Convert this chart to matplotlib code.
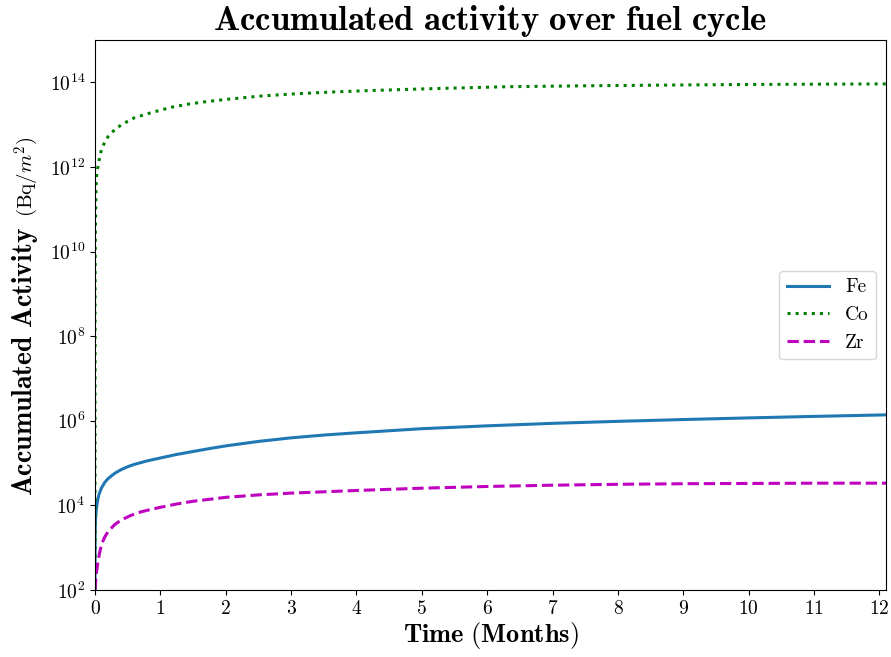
import numpy as np
import matplotlib
matplotlib.use("Agg")
import matplotlib.pyplot as plt
from matplotlib.ticker import NullLocator

plt.rcParams['font.family'] = 'serif'
plt.rcParams['font.serif'] = ['cmr10']
plt.rcParams['mathtext.fontset'] = 'cm'
plt.rcParams['axes.formatter.use_mathtext'] = True

# time in months, accumulated activity in Bq/m^2
fe_t = [0, 0.002, 0.005, 0.01, 0.02, 0.04, 0.06, 0.1, 0.15, 0.2, 0.3, 0.4, 0.5, 0.6,
        0.8, 1, 1.25, 1.5, 1.75, 2, 2.5, 3, 3.5, 4, 5, 6, 7, 8, 9, 10, 11, 12.1]
fe_a = [1e2, 2e3, 3.5e3, 5e3, 8e3, 1.3e4, 1.8e4, 2.6e4, 3.5e4, 4.3e4, 5.7e4, 7e4,
        8.2e4, 9.3e4, 1.13e5, 1.32e5, 1.6e5, 1.88e5, 2.2e5, 2.55e5, 3.25e5, 3.95e5,
        4.6e5, 5.2e5, 6.5e5, 7.6e5, 8.7e5, 9.7e5, 1.07e6, 1.17e6, 1.27e6, 1.38e6]

co_t = [0, 0.001, 0.003, 0.006, 0.01, 0.015, 0.02, 0.03, 0.05, 0.075, 0.1, 0.15, 0.2,
        0.3, 0.4, 0.5, 0.6, 0.7, 0.85, 1, 1.2, 1.45, 1.7, 2, 2.5, 3, 3.6, 4.2, 5,
        6.3, 7.5, 9, 10.5, 12.1]
co_a = [1e2, 1e9, 9e9, 3e10, 8e10, 2.5e11, 4.9e11, 7.5e11, 1.1e12, 1.8e12, 2.6e12,
        3.9e12, 5.2e12, 7.6e12, 9.8e12, 1.2e13, 1.45e13, 1.62e13, 1.9e13, 2.2e13,
        2.65e13, 3.1e13, 3.5e13, 3.95e13, 4.7e13, 5.3e13, 5.9e13, 6.4e13, 7.0e13,
        7.9e13, 8.3e13, 8.7e13, 9.0e13, 9.2e13]

zr_t = [0, 0.01, 0.02, 0.04, 0.07, 0.1, 0.15, 0.2, 0.3, 0.4, 0.55, 0.7, 0.85, 1, 1.25,
        1.5, 2, 2.5, 3, 4, 5, 6, 7, 8, 9, 10, 11, 12.1]
zr_a = [1e2, 1.6e2, 2.5e2, 4e2, 7.5e2, 1.2e3, 1.8e3, 2.4e3, 3.5e3, 4.5e3, 5.8e3, 7e3,
        8e3, 9e3, 1.08e4, 1.25e4, 1.55e4, 1.77e4, 1.95e4, 2.25e4, 2.55e4, 2.8e4,
        3.0e4, 3.15e4, 3.25e4, 3.3e4, 3.35e4, 3.35e4]

fig = plt.figure(figsize=(8.91, 6.57), dpi=100)
ax = fig.add_axes([0.1066, 0.102, 0.8878, 0.837])

ax.plot(fe_t, fe_a, color='#1f77b4', lw=2.2, label='Fe')
ax.plot(co_t, co_a, color='g', lw=2.2, ls=':', label='Co')
ax.plot(zr_t, zr_a, color='m', lw=2.2, ls='--', label='Zr')

ax.set_yscale('log')
ax.set_xlim(0, 12.1)
ax.set_ylim(1e2, 1e15)
ax.set_yticks(10.0 ** np.arange(2, 15, 2))
ax.yaxis.set_minor_locator(NullLocator())
ax.set_xticks(range(0, 13))
ax.tick_params(labelsize=14)

ax.set_title(r'$\mathbf{Accumulated\ activity\ over\ fuel\ cycle}$', fontsize=25, pad=7)
ax.set_xlabel(r'$\mathbf{Time\ (Months)}$', fontsize=19, labelpad=2)

# y label: bold part and regular unit part
yl_bold = ax.text(-0.079, 0.171, r'$\mathbf{Accumulated\ Activity}$', transform=ax.transAxes,
                  rotation=90, rotation_mode='anchor', ha='left', va='baseline', fontsize=20)
fig.canvas.draw()
bb = yl_bold.get_window_extent()
y_next = ax.transAxes.inverted().transform((0, bb.y1 + 10))[1]
ax.text(-0.079, y_next, r'(Bq/$m^2$)', transform=ax.transAxes,
        rotation=90, rotation_mode='anchor', ha='left', va='baseline', fontsize=15)

ax.legend(loc='center right', fontsize=14, handlelength=2.2)

fig.savefig('out.png', dpi=100)
